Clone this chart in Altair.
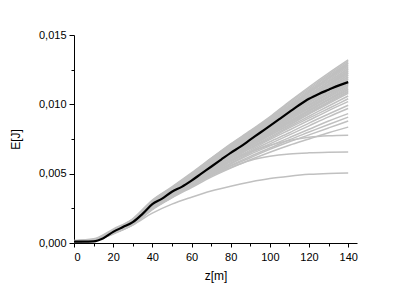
import altair as alt
import pandas as pd

# z positions (m)
z_gray = [0, 10, 20, 30, 40, 50, 60, 70, 80, 90, 100, 110, 120, 130, 140]
z_mean = [0, 5, 10, 15, 20, 25, 30, 35, 40, 45, 50, 55, 60, 65, 70, 75,
          80, 85, 90, 95, 100, 105, 110, 115, 120, 125, 130, 135, 140]

# energy in mJ (converted to J below)
mean_mJ = [0.10, 0.10, 0.12, 0.35, 0.80, 1.15, 1.50, 2.10, 2.80, 3.20, 3.70,
           4.05, 4.50, 5.00, 5.50, 6.00, 6.50, 6.95, 7.45, 7.95, 8.45, 8.95,
           9.45, 9.95, 10.40, 10.75, 11.05, 11.35, 11.60]

gray_mJ = [
    [0.15, 0.25, 0.95, 1.70, 3.05, 4.00, 5.00, 6.10, 7.15, 8.10, 9.10, 10.20, 11.25, 12.25, 13.20],
    [0.18, 0.30, 1.00, 1.75, 3.10, 4.05, 5.05, 6.10, 7.10, 8.05, 9.05, 10.15, 11.15, 12.15, 13.10],
    [0.15, 0.25, 0.90, 1.70, 3.00, 3.95, 4.95, 6.05, 7.05, 8.00, 9.00, 10.05, 11.05, 12.05, 13.00],
    [0.14, 0.24, 0.92, 1.68, 3.02, 3.98, 4.98, 6.00, 7.00, 7.95, 8.95, 9.95, 10.95, 11.95, 12.95],
    [0.12, 0.22, 0.90, 1.65, 2.95, 3.90, 4.90, 5.95, 6.95, 7.90, 8.90, 9.90, 10.90, 11.90, 12.85],
    [0.13, 0.23, 0.88, 1.66, 2.98, 3.92, 4.90, 5.92, 6.92, 7.88, 8.85, 9.85, 10.85, 11.85, 12.80],
    [0.12, 0.20, 0.85, 1.65, 2.95, 3.85, 4.85, 5.90, 6.90, 7.85, 8.80, 9.80, 10.80, 11.75, 12.70],
    [0.11, 0.21, 0.86, 1.62, 2.92, 3.86, 4.82, 5.86, 6.86, 7.80, 8.76, 9.72, 10.70, 11.65, 12.60],
    [0.10, 0.20, 0.85, 1.60, 2.90, 3.85, 4.80, 5.85, 6.85, 7.80, 8.75, 9.70, 10.65, 11.60, 12.55],
    [0.12, 0.22, 0.84, 1.60, 2.90, 3.82, 4.78, 5.80, 6.78, 7.72, 8.68, 9.62, 10.55, 11.50, 12.45],
    [0.10, 0.20, 0.80, 1.60, 2.90, 3.80, 4.75, 5.80, 6.80, 7.70, 8.65, 9.60, 10.50, 11.45, 12.40],
    [0.11, 0.20, 0.82, 1.58, 2.88, 3.80, 4.74, 5.76, 6.72, 7.66, 8.60, 9.52, 10.42, 11.38, 12.30],
    [0.10, 0.22, 0.85, 1.55, 2.85, 3.80, 4.75, 5.75, 6.70, 7.65, 8.60, 9.50, 10.40, 11.35, 12.25],
    [0.10, 0.22, 0.84, 1.56, 2.86, 3.76, 4.72, 5.72, 6.66, 7.60, 8.52, 9.42, 10.32, 11.24, 12.15],
    [0.10, 0.20, 0.80, 1.55, 2.85, 3.75, 4.70, 5.70, 6.65, 7.60, 8.50, 9.40, 10.30, 11.20, 12.10],
    [0.12, 0.24, 0.88, 1.56, 2.82, 3.74, 4.70, 5.66, 6.62, 7.52, 8.44, 9.34, 10.22, 11.12, 12.00],
    [0.12, 0.25, 0.90, 1.55, 2.80, 3.75, 4.70, 5.65, 6.60, 7.50, 8.40, 9.30, 10.20, 11.10, 11.95],
    [0.10, 0.21, 0.82, 1.52, 2.80, 3.72, 4.66, 5.62, 6.56, 7.46, 8.36, 9.24, 10.12, 11.00, 11.85],
    [0.10, 0.20, 0.80, 1.50, 2.80, 3.70, 4.65, 5.60, 6.55, 7.45, 8.35, 9.20, 10.10, 10.95, 11.80],
    [0.10, 0.20, 0.75, 1.50, 2.75, 3.70, 4.60, 5.55, 6.50, 7.40, 8.30, 9.15, 10.00, 10.85, 11.70],
    [0.10, 0.20, 0.78, 1.50, 2.76, 3.66, 4.60, 5.52, 6.46, 7.36, 8.22, 9.08, 9.94, 10.78, 11.60],
    [0.10, 0.20, 0.80, 1.50, 2.75, 3.65, 4.60, 5.50, 6.45, 7.35, 8.20, 9.05, 9.90, 10.75, 11.55],
    [0.10, 0.20, 0.75, 1.45, 2.70, 3.65, 4.55, 5.50, 6.40, 7.30, 8.15, 9.00, 9.80, 10.65, 11.45],
    [0.10, 0.20, 0.76, 1.46, 2.70, 3.62, 4.52, 5.46, 6.36, 7.24, 8.08, 8.92, 9.74, 10.56, 11.40],
    [0.10, 0.20, 0.75, 1.45, 2.70, 3.60, 4.50, 5.45, 6.35, 7.20, 8.05, 8.90, 9.70, 10.50, 11.30],
    [0.10, 0.20, 0.80, 1.50, 2.70, 3.60, 4.50, 5.40, 6.30, 7.15, 8.00, 8.80, 9.60, 10.40, 11.20],
    [0.10, 0.20, 0.76, 1.46, 2.66, 3.56, 4.46, 5.36, 6.26, 7.10, 7.92, 8.74, 9.54, 10.34, 11.10],
    [0.10, 0.20, 0.75, 1.45, 2.65, 3.55, 4.45, 5.35, 6.25, 7.10, 7.90, 8.70, 9.50, 10.30, 11.05],
    [0.10, 0.20, 0.75, 1.45, 2.65, 3.55, 4.45, 5.35, 6.20, 7.05, 7.85, 8.65, 9.40, 10.20, 10.95],
    [0.10, 0.19, 0.72, 1.42, 2.62, 3.52, 4.42, 5.32, 6.16, 6.98, 7.78, 8.56, 9.34, 10.12, 10.90],
    [0.10, 0.20, 0.70, 1.40, 2.60, 3.50, 4.40, 5.30, 6.15, 6.95, 7.75, 8.50, 9.30, 10.05, 10.80],
    [0.10, 0.20, 0.72, 1.40, 2.60, 3.50, 4.38, 5.24, 6.08, 6.86, 7.64, 8.40, 9.14, 9.88, 10.60],
    [0.10, 0.20, 0.70, 1.40, 2.60, 3.50, 4.35, 5.20, 6.00, 6.80, 7.55, 8.30, 9.00, 9.70, 10.40],
    [0.10, 0.20, 0.75, 1.40, 2.55, 3.45, 4.30, 5.15, 5.95, 6.70, 7.45, 8.15, 8.85, 9.55, 10.20],
    [0.10, 0.20, 0.70, 1.40, 2.55, 3.40, 4.25, 5.05, 5.85, 6.60, 7.30, 7.95, 8.65, 9.30, 9.93],
    [0.10, 0.20, 0.70, 1.35, 2.50, 3.40, 4.20, 5.00, 5.75, 6.50, 7.15, 7.80, 8.45, 9.10, 9.70],
    [0.10, 0.18, 0.70, 1.35, 2.50, 3.35, 4.15, 4.95, 5.70, 6.40, 7.00, 7.60, 8.20, 8.80, 9.33],
    [0.10, 0.18, 0.70, 1.35, 2.45, 3.30, 4.10, 4.90, 5.60, 6.25, 6.85, 7.45, 8.00, 8.55, 9.08],
    [0.10, 0.20, 0.70, 1.35, 2.45, 3.30, 4.10, 4.85, 5.55, 6.15, 6.75, 7.30, 7.80, 8.30, 8.80],
    [0.10, 0.18, 0.70, 1.30, 2.40, 3.25, 4.00, 4.75, 5.40, 6.00, 6.55, 7.05, 7.50, 7.95, 8.36],
    [0.10, 0.20, 0.75, 1.40, 2.55, 3.45, 4.30, 5.05, 5.95, 6.55, 7.05, 7.40, 7.62, 7.73, 7.77],
    [0.10, 0.20, 0.75, 1.45, 2.50, 3.35, 4.15, 4.85, 5.45, 5.95, 6.25, 6.42, 6.50, 6.54, 6.56],
    [0.10, 0.15, 0.65, 1.30, 2.15, 2.80, 3.30, 3.75, 4.10, 4.40, 4.65, 4.82, 4.95, 5.02, 5.05],
]

x_major = [0, 20, 40, 60, 80, 100, 120, 140]
x_minor = [10, 30, 50, 70, 90, 110, 130]
y_major = [0.0, 0.005, 0.010, 0.015]
y_minor = [0.0025, 0.0075, 0.0125]

rows = []
for i, series in enumerate(gray_mJ):
    for z, v in zip(z_gray, series):
        rows.append({"z": z, "E": v / 1000.0, "run": i})
gray_df = pd.DataFrame(rows)
mean_df = pd.DataFrame({"z": z_mean, "E": [v / 1000.0 for v in mean_mJ]})

FONT = "Arial, Liberation Sans, sans-serif"
xscale = alt.Scale(domain=[0, 144.5], nice=False, zero=False)
yscale = alt.Scale(domain=[0, 0.015], nice=False)

x_axis = alt.Axis(values=x_major, title="z[m]", grid=False, tickSize=4,
                  labelPadding=4, titlePadding=8, labelFontSize=11,
                  titleFontSize=12, titleFontWeight="normal", domainColor="black",
                  tickColor="black", labelColor="black", titleColor="black",
                  labelFont=FONT, titleFont=FONT, orient="bottom")
y_axis = alt.Axis(values=y_major, title="E[J]", grid=False, tickSize=5,
                  labelPadding=3,
                  labelExpr="replace(format(datum.value, '.3f'), '.', ',')",
                  titlePadding=16, labelFontSize=11, titleFontSize=12,
                  titleFontWeight="normal", domainColor="black",
                  tickColor="black", labelColor="black", titleColor="black",
                  labelFont=FONT, titleFont=FONT, orient="left")

gray = alt.Chart(gray_df).mark_line(color="#c0c0c0", strokeWidth=1.5,
                                    interpolate="monotone").encode(
    x=alt.X("z:Q", scale=xscale, axis=x_axis),
    y=alt.Y("E:Q", scale=yscale, axis=y_axis),
    detail="run:N",
)

x_axis_minor = alt.Axis(values=x_minor, title=None, labels=False, grid=False,
                        tickSize=3, domain=False, tickColor="black",
                        orient="bottom")
y_axis_minor = alt.Axis(values=y_minor, title=None, labels=False, grid=False,
                        tickSize=3, domain=False, tickColor="black",
                        orient="left")

mean = alt.Chart(mean_df).mark_line(color="black", strokeWidth=2.2,
                                    interpolate="monotone").encode(
    x=alt.X("z:Q", scale=xscale, axis=x_axis_minor),
    y=alt.Y("E:Q", scale=yscale, axis=y_axis_minor),
)

chart = alt.layer(gray, mean).resolve_axis(
    x="independent", y="independent"
).properties(
    width=283, height=208,
    autosize=alt.AutoSizeParams(type="none"),
    padding={"left": 66, "top": 27, "right": 50, "bottom": 40},
).configure(font=FONT).configure_view(stroke=None)

chart.save("out.html", embed_options={"renderer": "svg", "actions": False})
